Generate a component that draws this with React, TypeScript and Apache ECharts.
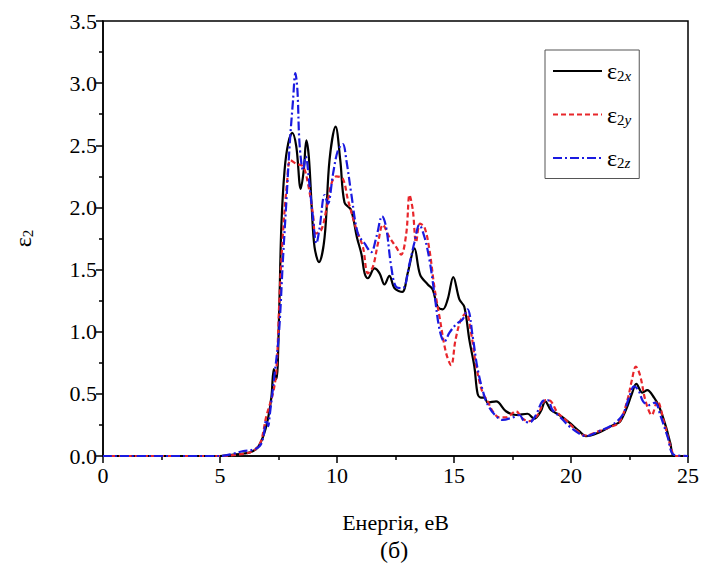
import React, { useEffect, useRef } from "react";
import * as echarts from "echarts";

const energyX = [0, 5.0, 5.5, 6.0, 6.3, 6.6, 6.85, 7.05, 7.2, 7.3, 7.41, 7.52, 7.62, 7.76, 7.92, 8.09, 8.26, 8.45, 8.58, 8.69, 8.8, 8.92, 9.04, 9.23, 9.47, 9.68, 9.94, 10.14, 10.32, 10.6, 10.85, 11.05, 11.18, 11.32, 11.6, 11.82, 12.03, 12.24, 12.46, 12.79, 13.02, 13.31, 13.55, 13.88, 14.09, 14.3, 14.52, 14.73, 14.97, 15.23, 15.44, 15.66, 15.87, 16.01, 16.15, 16.3, 16.44, 16.8, 17.22, 17.65, 18.14, 18.43, 18.71, 18.9, 19.14, 19.5, 19.92, 20.35, 20.64, 21.2, 21.77, 22.06, 22.2, 22.41, 22.6, 22.79, 23.05, 23.26, 23.55, 23.76, 24.05, 24.25, 24.4, 25];
const epsX = [0, 0, 0.01, 0.02, 0.03, 0.066, 0.16, 0.30, 0.48, 0.70, 0.62, 1.1, 1.84, 2.30, 2.52, 2.60, 2.49, 2.15, 2.3, 2.54, 2.4, 2.0, 1.68, 1.56, 1.76, 2.38, 2.65, 2.38, 2.04, 1.98, 1.76, 1.62, 1.47, 1.43, 1.51, 1.47, 1.38, 1.45, 1.35, 1.32, 1.47, 1.67, 1.46, 1.38, 1.34, 1.20, 1.18, 1.26, 1.44, 1.26, 1.20, 0.93, 0.72, 0.50, 0.47, 0.47, 0.43, 0.44, 0.36, 0.33, 0.34, 0.30, 0.36, 0.44, 0.37, 0.33, 0.27, 0.20, 0.16, 0.19, 0.245, 0.27, 0.31, 0.40, 0.50, 0.58, 0.51, 0.53, 0.47, 0.40, 0.24, 0.10, 0, 0];

const energyY = [0, 5.0, 5.7, 6.3, 6.6, 6.77, 6.98, 7.27, 7.41, 7.55, 7.69, 7.86, 8.01, 8.26, 8.55, 8.76, 8.97, 9.09, 9.33, 9.54, 9.76, 9.97, 10.25, 10.47, 10.82, 11.11, 11.32, 11.53, 11.75, 11.96, 12.24, 12.53, 12.74, 12.96, 13.10, 13.24, 13.38, 13.55, 13.74, 13.95, 14.16, 14.38, 14.66, 14.88, 15.06, 15.30, 15.52, 15.73, 15.94, 16.22, 16.44, 16.65, 16.94, 17.22, 17.65, 17.93, 18.22, 18.57, 18.93, 19.14, 19.42, 19.78, 20.21, 20.6, 21.2, 21.63, 22.06, 22.41, 22.6, 22.77, 22.95, 23.19, 23.45, 23.69, 23.98, 24.33, 24.45, 25];
const epsY = [0, 0, 0.01, 0.03, 0.07, 0.13, 0.32, 0.51, 0.69, 1.31, 1.79, 2.19, 2.38, 2.35, 2.33, 2.19, 1.95, 1.79, 1.82, 1.98, 2.19, 2.25, 2.23, 2.06, 1.83, 1.68, 1.47, 1.52, 1.71, 1.86, 1.76, 1.68, 1.62, 1.79, 2.10, 1.98, 1.72, 1.87, 1.84, 1.66, 1.36, 1.12, 0.83, 0.73, 0.93, 1.10, 1.15, 0.99, 0.73, 0.51, 0.44, 0.36, 0.31, 0.31, 0.36, 0.30, 0.28, 0.33, 0.45, 0.44, 0.35, 0.29, 0.21, 0.165, 0.20, 0.23, 0.27, 0.45, 0.61, 0.72, 0.65, 0.44, 0.33, 0.44, 0.27, 0.03, 0, 0];

const energyZ = [0, 5.0, 5.6, 6.0, 6.4, 6.7, 6.85, 6.98, 7.06, 7.12, 7.34, 7.52, 7.69, 7.84, 7.98, 8.12, 8.22, 8.31, 8.40, 8.55, 8.66, 8.83, 8.97, 9.12, 9.26, 9.47, 9.61, 9.83, 10.04, 10.25, 10.40, 10.61, 10.89, 11.18, 11.46, 11.68, 11.93, 12.10, 12.32, 12.53, 12.81, 13.10, 13.31, 13.52, 13.74, 13.95, 14.16, 14.38, 14.59, 14.80, 15.09, 15.37, 15.58, 15.80, 16.01, 16.30, 16.51, 16.80, 17.08, 17.50, 17.79, 18.00, 18.22, 18.50, 18.78, 19.00, 19.21, 19.50, 19.92, 20.35, 20.64, 21.2, 21.77, 22.20, 22.48, 22.70, 22.88, 23.08, 23.34, 23.59, 23.83, 24.12, 24.40, 25];
const epsZ = [0, 0, 0.02, 0.04, 0.05, 0.08, 0.15, 0.29, 0.24, 0.32, 0.67, 0.99, 1.58, 2.06, 2.51, 2.86, 3.08, 2.94, 2.51, 2.30, 2.41, 2.17, 1.92, 1.71, 1.84, 2.10, 2.03, 2.27, 2.46, 2.51, 2.38, 2.11, 1.79, 1.71, 1.64, 1.76, 1.93, 1.84, 1.52, 1.36, 1.35, 1.55, 1.72, 1.86, 1.76, 1.58, 1.31, 1.02, 0.92, 0.99, 1.06, 1.10, 1.18, 0.96, 0.70, 0.48, 0.39, 0.32, 0.29, 0.31, 0.33, 0.28, 0.27, 0.33, 0.44, 0.45, 0.37, 0.32, 0.24, 0.18, 0.16, 0.20, 0.25, 0.33, 0.47, 0.56, 0.53, 0.44, 0.41, 0.43, 0.32, 0.16, 0.01, 0];

const seriesNames = ["e2x", "e2y", "e2z"];
const seriesSubs = ["x", "y", "z"];
const xAxisTitle = "Енергія, еВ";
const caption = "(б)";

const FONT = "Times New Roman, Liberation Serif, serif";

function zip(xs: number[], ys: number[]) {
  return xs.map((x, i) => [x, ys[i]]);
}

export default function App() {
  const ref = useRef<HTMLDivElement>(null);
  useEffect(() => {
    if (!ref.current) return;
    const chart = echarts.init(ref.current, null, { renderer: "svg" });
    const tickStyle = { color: "#000", width: 1.5 };
    chart.setOption({
      animation: false,
      grid: { left: 103, right: 13, top: 21, bottom: 118, show: true, borderColor: "#000", borderWidth: 1.5 },
      legend: {
        orient: "vertical",
        left: 545,
        top: 50,
        padding: [9, 8, 8, 7],
        borderColor: "#555",
        borderWidth: 1,
        itemWidth: 49,
        itemHeight: 20,
        itemGap: 19,
        itemStyle: { opacity: 0 },
        data: seriesNames,
        formatter: (name: string) => {
          const i = seriesNames.indexOf(name);
          return "{e|ε}{s|2}{i|" + seriesSubs[i] + "}";
        },
        textStyle: {
          fontFamily: FONT,
          fontSize: 22,
          color: "#000",
          rich: {
            e: { fontFamily: FONT, fontSize: 24, color: "#000" },
            s: { fontFamily: FONT, fontSize: 15, color: "#000", padding: [10, 0, 0, 0] },
            i: { fontFamily: FONT, fontSize: 15, color: "#000", fontStyle: "italic", padding: [10, 0, 0, 0] },
          },
        },
      },
      xAxis: {
        type: "value",
        min: 0,
        max: 25,
        interval: 5,
        axisLine: { show: true, lineStyle: tickStyle },
        splitLine: { show: false },
        axisTick: { show: true, inside: false, length: 7, lineStyle: tickStyle },
        minorTick: { show: true, splitNumber: 2, length: 4, lineStyle: tickStyle },
        axisLabel: { fontFamily: FONT, fontSize: 22, color: "#000", margin: 8 },
        name: xAxisTitle,
        nameLocation: "middle",
        nameGap: 55,
        nameTextStyle: { fontFamily: FONT, fontSize: 22, color: "#000" },
      },
      yAxis: {
        type: "value",
        min: 0,
        max: 3.5,
        interval: 0.5,
        axisLine: { show: true, lineStyle: tickStyle },
        splitLine: { show: false },
        axisTick: { show: true, inside: false, length: 7, lineStyle: tickStyle },
        minorTick: { show: true, splitNumber: 2, length: 4, lineStyle: tickStyle },
        axisLabel: { fontFamily: FONT, fontSize: 22, color: "#000", margin: 6, formatter: (v: number) => v.toFixed(1) },
        name: "{e|ε}{s|2}",
        nameLocation: "middle",
        nameGap: 68,
        nameRotate: 90,
        nameTextStyle: {
          color: "#000",
          fontFamily: FONT,
          rich: {
            e: { fontFamily: FONT, fontSize: 24, color: "#000" },
            s: { fontFamily: FONT, fontSize: 15, color: "#000", padding: [10, 0, 0, 0] },
          },
        },
      },
      graphic: [
        {
          type: "text",
          left: 380,
          top: 538,
          style: { text: caption, fontFamily: FONT, fontSize: 24, fill: "#000" },
        },
      ],
      series: [
        {
          name: seriesNames[0],
          type: "line",
          data: zip(energyX, epsX),
          symbol: "none",
          smooth: 0.35,
          lineStyle: { color: "#000", width: 2.2, type: "solid" },
          itemStyle: { color: "#000" },
          z: 3,
        },
        {
          name: seriesNames[1],
          type: "line",
          data: zip(energyY, epsY),
          symbol: "none",
          smooth: 0.35,
          lineStyle: { color: "#e8262b", width: 2.2, type: [5, 3] },
          itemStyle: { color: "#e8262b" },
          z: 4,
        },
        {
          name: seriesNames[2],
          type: "line",
          data: zip(energyZ, epsZ),
          symbol: "none",
          smooth: 0.35,
          lineStyle: { color: "#1a1ae0", width: 2.2, type: [9, 3, 2, 3] },
          itemStyle: { color: "#1a1ae0" },
          z: 5,
        },
      ],
    });
    return () => chart.dispose();
  }, []);
  return <div ref={ref} style={{ position: "absolute", left: 0, top: 0, width: 702, height: 574 }} />;
}
